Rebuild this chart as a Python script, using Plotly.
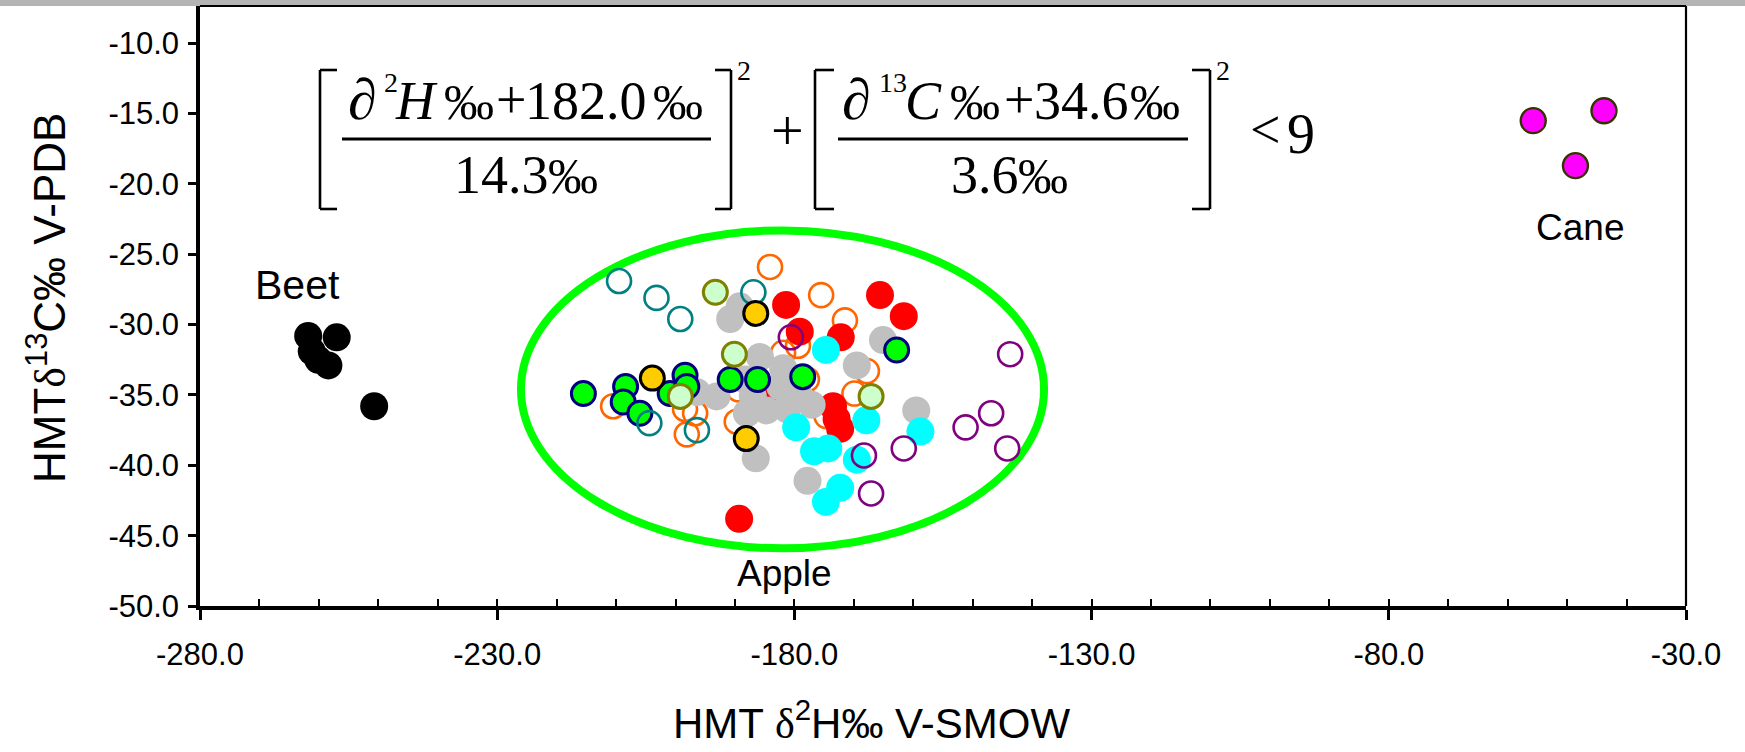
import plotly.graph_objects as go

# ---------------- data ----------------
BEET_X = [-261.8, -257.0, -261.2, -260.1, -258.4, -250.7]
BEET_Y = [-30.8, -30.9, -31.9, -32.5, -32.9, -35.8]

CANE_X = [-55.7, -43.8, -48.6]
CANE_Y = [-15.5, -14.8, -18.7]

ORANGE_X = [-184.1, -175.5, -171.5, -179.4, -181.9, -167.8, -169.9, -210.5, -198.4,
            -196.7, -198.1, -189.7, -189.4, -177.9, -174.6]
ORANGE_Y = [-25.9, -27.9, -29.7, -31.5, -32.0, -33.3, -34.9, -35.8, -36.0,
            -36.3, -37.8, -36.9, -34.6, -33.9, -36.5]

RED_X = [-181.4, -165.6, -161.6, -172.2, -179.1, -173.5, -172.9, -172.3, -183.0, -189.3]
RED_Y = [-28.6, -27.9, -29.4, -30.9, -30.5, -35.8, -36.7, -37.4, -34.9, -43.8]

GRAY_X = [-190.8, -189.2, -185.8, -181.9, -196.4, -193.1, -188.0, -184.7, -181.3, -177.1,
          -179.1, -186.5, -177.8, -169.5, -165.1, -159.5, -188.3, -182.4, -187.0]
GRAY_Y = [-29.6, -28.7, -32.3, -33.1, -34.8, -35.1, -36.3, -36.1, -36.0, -35.7,
          -35.1, -39.5, -41.1, -32.9, -31.1, -36.1, -33.9, -34.4, -35.1]

CYAN_X = [-174.7, -179.7, -176.7, -174.3, -167.9, -158.8, -169.5, -172.3, -174.7]
CYAN_Y = [-31.8, -37.3, -39.0, -38.8, -36.8, -37.6, -39.6, -41.6, -42.6]

GREEN_X = [-215.5, -208.4, -208.8, -206.0, -200.9, -198.4, -198.1, -190.8, -186.2, -178.6, -162.8]
GREEN_Y = [-34.9, -34.4, -35.5, -36.3, -34.9, -33.6, -34.4, -33.9, -33.9, -33.7, -31.8]

TEAL_X = [-209.5, -203.2, -199.2, -186.9, -204.4, -196.4]
TEAL_Y = [-26.9, -28.1, -29.6, -27.7, -37.0, -37.5]

PURPLE_X = [-180.6, -143.7, -146.9, -151.2, -144.2, -161.6, -168.3, -167.1]
PURPLE_Y = [-30.9, -32.1, -36.3, -37.3, -38.8, -38.8, -39.3, -42.0]

LIGHTGREEN_X = [-193.3, -190.1, -199.2, -167.1]
LIGHTGREEN_Y = [-27.7, -32.1, -35.1, -35.1]

GOLD_X = [-203.9, -186.5, -188.1]
GOLD_Y = [-33.8, -29.2, -38.1]

# 3-sigma apple ellipse (centre and semi-axes, data units)
ELLIPSE_CX, ELLIPSE_CY = -182.0, -34.6
ELLIPSE_A, ELLIPSE_B = 44.0, 11.3

X_TICKS = [-280, -230, -180, -130, -80, -30]
X_TICK_LABELS = ["-280.0", "-230.0", "-180.0", "-130.0", "-80.0", "-30.0"]
Y_TICKS = [-50, -45, -40, -35, -30, -25, -20, -15, -10]
Y_TICK_LABELS = ["-50.0", "-45.0", "-40.0", "-35.0", "-30.0", "-25.0", "-20.0", "-15.0", "-10.0"]

# ---------------- layout geometry ----------------
W, H = 1745, 752
ML, MR, MT, MB = 200, 59, 6, 146
PW = W - ML - MR
PH = H - MT - MB


def px(x):
    return (x - ML) / PW


def py(y):
    return (H - MB - y) / PH


SANS = "Liberation Sans, Arial, sans-serif"
SERIF = "Liberation Serif, Times New Roman, serif"

fig = go.Figure()


def add_filled(xs, ys, name, fill, line_color=None, line_width=0, size=28):
    fig.add_trace(go.Scatter(
        x=xs, y=ys, mode="markers", name=name, showlegend=False,
        marker=dict(symbol="circle", size=size, color=fill,
                    line=dict(width=line_width, color=line_color or fill))))


def add_open(xs, ys, name, color, size=24, line_width=2.6):
    fig.add_trace(go.Scatter(
        x=xs, y=ys, mode="markers", name=name, showlegend=False,
        marker=dict(symbol="circle-open", size=size, color=color,
                    line=dict(width=line_width, color=color))))


add_filled(BEET_X, BEET_Y, "Beet", "#000000", size=28)
add_filled(CANE_X, CANE_Y, "Cane", "#FF00FF", "#333300", 2.4, 25)
add_open(ORANGE_X, ORANGE_Y, "Apple A", "#FF6600")
add_filled(RED_X, RED_Y, "Apple B", "#FF0000", size=28)
add_filled(GRAY_X, GRAY_Y, "Apple C", "#C0C0C0", size=28)
add_filled(CYAN_X, CYAN_Y, "Apple D", "#00FFFF", size=28)
add_filled(GREEN_X, GREEN_Y, "Apple E", "#00FF00", "#000080", 3, 24)
add_open(TEAL_X, TEAL_Y, "Apple F", "#008080")
add_open(PURPLE_X, PURPLE_Y, "Apple G", "#800080")
add_filled(LIGHTGREEN_X, LIGHTGREEN_Y, "Apple H", "#CCFFCC", "#808000", 3, 24)
add_filled(GOLD_X, GOLD_Y, "Apple I", "#FFCC00", "#000000", 3, 24)

# empty trace to host the minor-tick overlay axis
fig.add_trace(go.Scatter(x=[], y=[], xaxis="x2", yaxis="y", showlegend=False, hoverinfo="skip"))

shapes = []
# apple ellipse
shapes.append(dict(type="circle", xref="x", yref="y", layer="below",
                   x0=ELLIPSE_CX - ELLIPSE_A, x1=ELLIPSE_CX + ELLIPSE_A,
                   y0=ELLIPSE_CY - ELLIPSE_B, y1=ELLIPSE_CY + ELLIPSE_B,
                   line=dict(color="#00FF00", width=8)))
# grey strip on top of the picture
shapes.append(dict(type="rect", xref="paper", yref="paper", x0=px(-2), x1=px(W + 2),
                   y0=py(6), y1=py(-2), fillcolor="#B4B4B4", line=dict(width=0)))
# frame top / right
shapes.append(dict(type="line", xref="paper", yref="paper", x0=0, x1=1, y0=1, y1=1,
                   line=dict(color="black", width=2.2)))
shapes.append(dict(type="line", xref="paper", yref="paper", x0=1, x1=1, y0=0, y1=1,
                   line=dict(color="black", width=2.2)))


def pline(x0, y0, x1, y1, w=2.6):
    shapes.append(dict(type="line", xref="paper", yref="paper",
                       x0=px(x0), y0=py(y0), x1=px(x1), y1=py(y1),
                       line=dict(color="black", width=w)))


# formula brackets
for (xv, xh) in [(320, 337), (731, 715), (815, 834), (1210, 1192)]:
    pline(xv, 70, xv, 209)
    pline(xv, 70, xh, 70)
    pline(xv, 209, xh, 209)
# fraction bars
pline(342, 139, 711, 139, 2.8)
pline(838, 139, 1188, 139, 2.8)

annotations = []


def serif_tok(text, cx, baseline, size):
    annotations.append(dict(
        text=text, xref="paper", yref="paper", x=px(cx), y=py(baseline - 0.3375 * size),
        xanchor="center", yanchor="middle", showarrow=False,
        font=dict(family=SERIF, size=size, color="black")))


F = 54
S = 28
tokens = [
    ("∂", 362, 119, 58), ("2", 391, 92, S), ("<i>H</i>", 416, 119, F), ("‰", 469, 119, 50),
    ("+", 511, 118, F), ("182.0", 586, 119, F), ("‰", 678, 119, 50),
    ("14.3", 501, 193, F), ("‰", 573, 193, 50),
    ("2", 744, 80, S),
    ("+", 787, 150, 58),
    ("∂", 856, 119, 58), ("13", 893, 92, S), ("<i>C</i>", 923, 119, F), ("‰", 975, 119, 50),
    ("+", 1019, 118, F), ("34.6", 1081, 119, F), ("‰", 1155, 119, 50),
    ("3.6", 985, 193, F), ("‰", 1043, 193, 50),
    ("2", 1223, 80, S),
    ("<", 1265, 148, 54), ("9", 1301, 153, 56),
]
for t in tokens:
    serif_tok(*t)


def sans_label(text, x, y, size, xref="x", yref="y", angle=0):
    annotations.append(dict(text=text, x=x, y=y, xref=xref, yref=yref, showarrow=False,
                            xanchor="center", yanchor="middle", textangle=angle,
                            font=dict(family=SANS, size=size, color="black")))


sans_label("Beet", -263.6, -27.2, 41)
sans_label("Cane", -47.8, -23.1, 37)
sans_label("Apple", -181.6, -47.7, 37)

delta = "<span style='font-family:Liberation Serif'>δ</span>"
sans_label("HMT " + delta + "<sup>2</sup>H‰ V-SMOW", px(871), py(720), 42,
           xref="paper", yref="paper")
sans_label("HMT" + delta + "<sup>13</sup>C‰ V-PDB", px(47), py(298), 44,
           xref="paper", yref="paper", angle=-90)

fig.update_layout(
    width=W, height=H,
    margin=dict(l=ML, r=MR, t=MT, b=MB, pad=0, autoexpand=False),
    paper_bgcolor="white", plot_bgcolor="white",
    showlegend=False,
    shapes=shapes, annotations=annotations,
    xaxis=dict(range=[-280, -30], tickmode="array", tickvals=X_TICKS, ticktext=X_TICK_LABELS,
               ticks="outside", ticklen=10, tickwidth=2.5, tickcolor="black",
               showline=True, linewidth=3.5, linecolor="black",
               showgrid=False, zeroline=False, ticklabelstandoff=8,
               tickfont=dict(family=SANS, size=31, color="black")),
    xaxis2=dict(range=[-280, -30], overlaying="x", anchor="y", side="bottom",
                tickmode="linear", tick0=-280, dtick=10, ticks="inside", ticklen=7,
                tickwidth=2, tickcolor="black", showticklabels=False,
                showline=False, showgrid=False, zeroline=False),
    yaxis=dict(range=[-50, -7.35], tickmode="array", tickvals=Y_TICKS, ticktext=Y_TICK_LABELS,
               ticks="outside", ticklen=8, tickwidth=2.5, tickcolor="black",
               showline=True, linewidth=3.5, linecolor="black",
               showgrid=False, zeroline=False, ticklabelstandoff=3,
               tickfont=dict(family=SANS, size=31, color="black")),
)

fig.write_html("out.html", config={"displayModeBar": False},
               post_script="document.body.style.margin='0';document.body.style.padding='0';")
